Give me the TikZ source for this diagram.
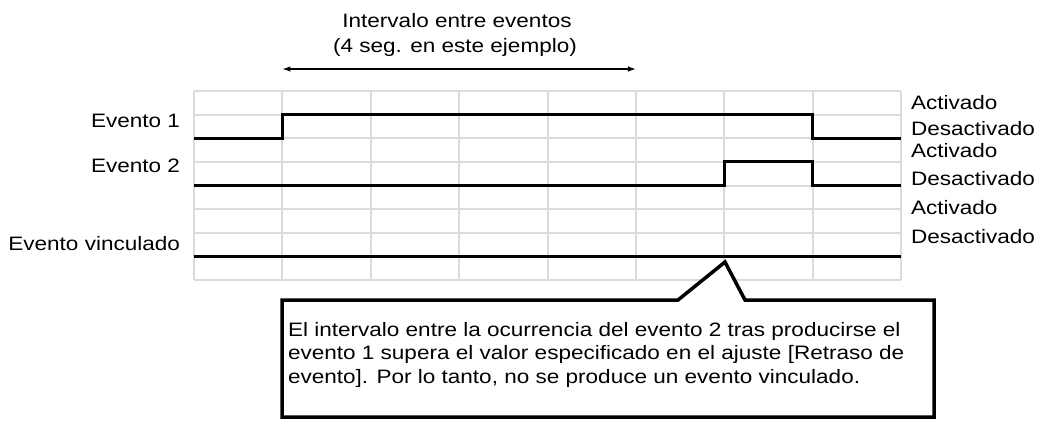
\documentclass[tikz,border=0pt]{standalone}
\usepackage{fontspec}
\setmainfont{Liberation Sans}[FakeStretch=1.16]
\usetikzlibrary{arrows.meta}
\begin{document}
\begin{tikzpicture}[x=1bp,y=-1bp,
  every node/.style={inner sep=0pt, outer sep=0pt},
  txt/.style={font=\fontsize{19.5}{23.5}\selectfont},
  gridline/.style={draw=black!14, line width=2bp},
  sig/.style={draw=black, line width=3bp, line join=miter},
  dimarrow/.style={draw=black, line width=1.2bp, {Latex[length=8bp,width=5.5bp]}-{Latex[length=8bp,width=5.5bp]}},
  callout/.style={draw=black, fill=white, line width=3.5bp, line join=miter}]
\useasboundingbox (0,0) rectangle (1041,421);

% grid
\foreach \i in {0,...,8}
  \draw[gridline] ({194+88.375*\i},91) -- ({194+88.375*\i},280);
\foreach \j in {0,...,8}
  \draw[gridline] (194,{91+23.625*\j}) -- (901,{91+23.625*\j});

% top label and arrow
\node[txt, anchor=base] (t1) at (457,27) {Intervalo entre eventos};
\node[txt, anchor=base] (t2) at (455,52) {(4 seg. en este ejemplo)};
\coordinate (aL) at (282.4,69);
\coordinate (aR) at (635.9,69);
\draw[dimarrow] (aL) -- (aR);

% left labels
\node[txt, anchor=base east] (e1) at (180,127) {Evento 1};
\node[txt, anchor=base east] (e2) at (180,172) {Evento 2};
\node[txt, anchor=base east] (ev) at (180,250) {Evento vinculado};

% right labels
\node[txt, anchor=base west] (a1) at (911,109) {Activado};
\node[txt, anchor=base west] (d1) at (911,135) {Desactivado};
\node[txt, anchor=base west] (a2) at (911,157) {Activado};
\node[txt, anchor=base west] (d2) at (911,185) {Desactivado};
\node[txt, anchor=base west] (a3) at (911,214) {Activado};
\node[txt, anchor=base west] (d3) at (911,243) {Desactivado};

% signals
\draw[sig] (194,138.25) -- (282.4,138.25) -- (282.4,114.6) -- (812.6,114.6) -- (812.6,138.25) -- (901,138.25);
\draw[sig] (194,185.5) -- (724.25,185.5) -- (724.25,161.9) -- (812.6,161.9) -- (812.6,185.5) -- (901,185.5);
\draw[sig] (194,256.4) -- (901,256.4);

% callout
\draw[callout] (282,300) -- (678,300) -- (725,262) -- (745,300) -- (934,300) -- (934,417) -- (282,417) -- cycle;
\node[txt, anchor=base west, align=left] (note) at (288,383)
  {El intervalo entre la ocurrencia del evento 2 tras producirse el\\
   evento 1 supera el valor especificado en el ajuste [Retraso de\\
   evento]. Por lo tanto, no se produce un evento vinculado.};
\end{tikzpicture}
\end{document}
